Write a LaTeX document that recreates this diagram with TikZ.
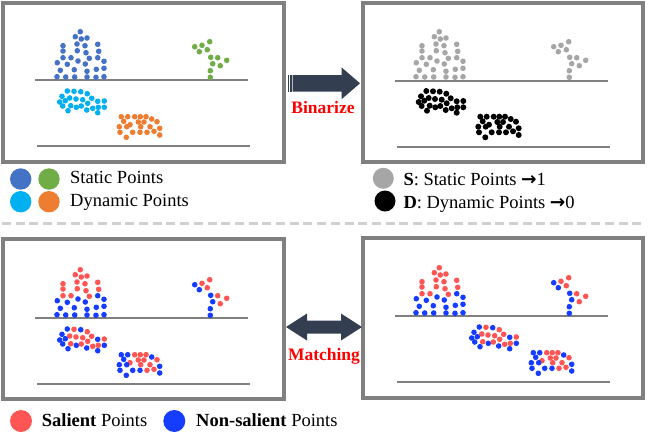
\documentclass[tikz,border=0pt]{standalone}
\usepackage{fontspec}
\setmainfont{Liberation Serif}
\newfontfamily\arrowfont{DejaVu Sans}
\usetikzlibrary{calc}

\definecolor{stblue}{HTML}{4472C4}
\definecolor{stgreen}{HTML}{70AD47}
\definecolor{dycyan}{HTML}{00B0F0}
\definecolor{dyorange}{HTML}{ED7D31}
\definecolor{ptgray}{HTML}{A6A6A6}
\definecolor{salred}{HTML}{FF5555}
\definecolor{nsblue}{RGB}{22,60,255}
\definecolor{panelgray}{HTML}{808080}
\definecolor{arrowc}{HTML}{333F50}
\definecolor{dashgray}{HTML}{D0D0D0}
\colorlet{pt1}{salred}
\colorlet{pt0}{nsblue}

% point clouds of the first panel: x/y/salient
\def\staticpts{80.3/31.7/1, 75.3/36.7/1, 81.3/39/1, 87/38/1, 63/45.7/1, 77/44/1, 85/45.7/1, 97.7/44.3/1,
  63/51/1, 77.3/50.7/1, 86/52.7/1, 98.7/51.3/1, 63/57.7/1, 71/57.7/1, 89.3/58.3/1, 78/61/0,
  85.3/64/0, 97.7/57.7/0, 104/61.3/0, 57.3/62.7/0, 67.3/64.3/0, 60.3/70.3/0, 74.3/69.7/0, 87/71.3/0,
  96.3/69.3/0, 104/68.3/0, 57/76.7/0, 65.7/77/0, 74.7/77/0, 87/77/0, 96/77.3/0, 104/76.7/0}
\def\treepts{209.7/41.7/1, 202/45.3/1, 194.7/46.7/0, 199.3/51.7/0, 207.3/49.7/1, 210.7/57.3/0,
  217.7/57.7/1, 226.7/60.3/1, 212.7/63.7/0, 220.3/65.7/1, 210.3/70.7/0, 210.3/77.3/0}
\def\dynApts{67.3/91/0, 74/91.3/1, 80.7/91.7/0, 87.3/93.7/1, 62/96.3/0, 69.7/98/1, 76/99/1, 82.7/99.7/1,
  91.7/98.3/1, 97.7/101.3/0, 104.3/101/1, 59.7/102/0, 65.3/100.7/0, 62.7/106/0, 70.7/105.7/1, 76.3/107.3/0,
  81.3/106/1, 87.7/103.3/1, 92.7/108.3/1, 97.7/112.7/0, 68/110.7/0, 86.7/110/0, 98.3/107.3/1, 104.3/107.3/0}
\def\dynBpts{121.3/116.7/0, 127.7/116.7/0, 134.7/116.7/1, 140.3/116.7/1, 146/116.7/1, 151.7/119/0,
  157/121.7/1, 123.7/121.3/0, 130/124.7/1, 138.3/122/1, 144/122/1, 119.3/126.7/0, 126.7/126.7/0,
  140.7/126.7/1, 150/126.7/1, 159.7/128.3/0, 120/132.3/0, 132.7/132.3/0, 140/132.3/0, 147/132.3/1,
  154/131.3/1, 126.3/137.3/0, 159.7/135/0}

\begin{document}
\begin{tikzpicture}[x=1pt,y=-1pt,
  panel/.style={draw=panelgray, line width=3.5pt},
  ground/.style={draw=panelgray, line width=1.8pt},
  blockarrow/.style={fill=arrowc},
  legend/.style={font=\fontsize{18.5}{22}\selectfont, anchor=base west, inner sep=0pt},
  verb/.style={font=\fontsize{17.5}{20}\selectfont\bfseries, text=red, anchor=base, inner sep=0pt}]

\useasboundingbox (0,0) rectangle (648,432);

% panels
  \draw[panel] (3,3) rectangle (284,162);
  \draw[panel] (363,3) rectangle (643,162);
  \draw[panel] (3,239) rectangle (284,399);
  \draw[panel] (363,238) rectangle (643,398);

% ground lines
  \foreach \dx/\dy in {0/0, 360/1, 0/238, 360/236} {
    \draw[ground] (35+\dx,80+\dy) -- (248+\dx,80+\dy);
    \draw[ground] (37+\dx,146+\dy) -- (250+\dx,146+\dy);
  }

% input points
  \foreach \x/\y/\s in \staticpts {\fill[stblue] (\x,\y) circle[radius=2.8pt];}
  \foreach \x/\y/\s in \treepts {\fill[stgreen] (\x,\y) circle[radius=2.8pt];}
  \foreach \x/\y/\s in \dynApts {\fill[dycyan] (\x,\y) circle[radius=2.8pt];}
  \foreach \x/\y/\s in \dynBpts {\fill[dyorange] (\x,\y) circle[radius=2.8pt];}

% binarized points
  \begin{scope}[shift={(359,0)}]
  \foreach \x/\y/\s in \staticpts {\fill[ptgray] (\x,\y) circle[radius=2.8pt];}
  \foreach \x/\y/\s in \treepts {\fill[ptgray] (\x,\y) circle[radius=2.8pt];}
  \foreach \x/\y/\s in \dynApts {\fill[black] (\x,\y) circle[radius=3pt];}
  \foreach \x/\y/\s in \dynBpts {\fill[black] (\x,\y) circle[radius=3pt];}
  \end{scope}

% salient points, previous frame
  \begin{scope}[shift={(0,238)}]
  \foreach \x/\y/\s in \staticpts {\fill[pt\s] (\x,\y) circle[radius=2.8pt];}
  \foreach \x/\y/\s in \treepts {\fill[pt\s] (\x,\y) circle[radius=2.8pt];}
  \foreach \x/\y/\s in \dynApts {\fill[pt\s] (\x,\y) circle[radius=2.8pt];}
  \foreach \x/\y/\s in \dynBpts {\fill[pt\s] (\x,\y) circle[radius=2.8pt];}
  \end{scope}

% salient points, current frame (dynamic ones moved)
  \begin{scope}[shift={(359,236)}]
  \foreach \x/\y/\s in \staticpts {\fill[pt\s] (\x,\y) circle[radius=2.8pt];}
  \foreach \x/\y/\s in \treepts {\fill[pt\s] (\x,\y) circle[radius=2.8pt];}
  \end{scope}
  \begin{scope}[shift={(412,236)}]
  \foreach \x/\y/\s in \dynApts {\fill[pt\s] (\x,\y) circle[radius=2.8pt];}
  \foreach \x/\y/\s in \dynBpts {\fill[pt\s] (\x,\y) circle[radius=2.8pt];}
  \end{scope}

% binarize arrow with stripes
  \coordinate (binS) at (292.5,83.3);
  \coordinate (binE) at (360,83.3);
  \fill[blockarrow] ($(binS)+(0,-8.3)$) -- ++(49.2,0) -- ++(0,-7.5) -- (binE) -- ++(-18.3,15.8) -- ++(0,-7.5) -- ++(-49.2,0) -- cycle;
  \fill[blockarrow] ($(binS)+(-4.3,-8.3)$) rectangle ++(1.2,16.6);
  \fill[blockarrow] ($(binS)+(-2.2,-8.3)$) rectangle ++(1.2,16.6);
  \node[verb] (binarize) at (323,113) {Binarize};

% matching arrow
  \coordinate (matL) at (286,327);
  \coordinate (matR) at (362,327);
  \fill[blockarrow] (matL) -- ++(21,-13.5) -- ++(0,7) -- ++(34,0) -- ++(0,-7) -- (matR)
     -- ++(-21,13.5) -- ++(0,-7) -- ++(-34,0) -- ++(0,7) -- cycle;
  \node[verb] (matching) at (324,360.5) {Matching};

% legends
  \fill[stblue] (20.7,179) circle[radius=10.7pt];
  \fill[stgreen] (49,179) circle[radius=10.7pt];
  \fill[dycyan] (20.7,201.7) circle[radius=10.7pt];
  \fill[dyorange] (49,201.7) circle[radius=10.7pt];
  \node[legend] (lgstatic) at (70,183.3) {Static Points};
  \node[legend] (lgdynamic) at (70,206.7) {Dynamic Points};

  \fill[ptgray] (383.3,178.3) circle[radius=10.5pt];
  \fill[black] (385,201) circle[radius=10.5pt];
  \node[legend] (lgS) at (403.3,185.5) {\textbf{S}: Static Points {\arrowfont\bfseries →}1};
  \node[legend] (lgD) at (403.3,208) {\textbf{D}: Dynamic Points {\arrowfont\bfseries →}0};

  \fill[salred] (21,421) circle[radius=11pt];
  \fill[nsblue] (174.3,421) circle[radius=11pt];
  \node[legend] (lgsal) at (41.7,426.7) {\textbf{Salient} Points};
  \node[legend] (lgnonsal) at (196,426.7) {\textbf{Non-salient} Points};

% separator
  \draw[dashgray, line width=3pt, dash pattern=on 9pt off 4.7pt] (2,223.5) -- (643,223.5);

\end{tikzpicture}
\end{document}
